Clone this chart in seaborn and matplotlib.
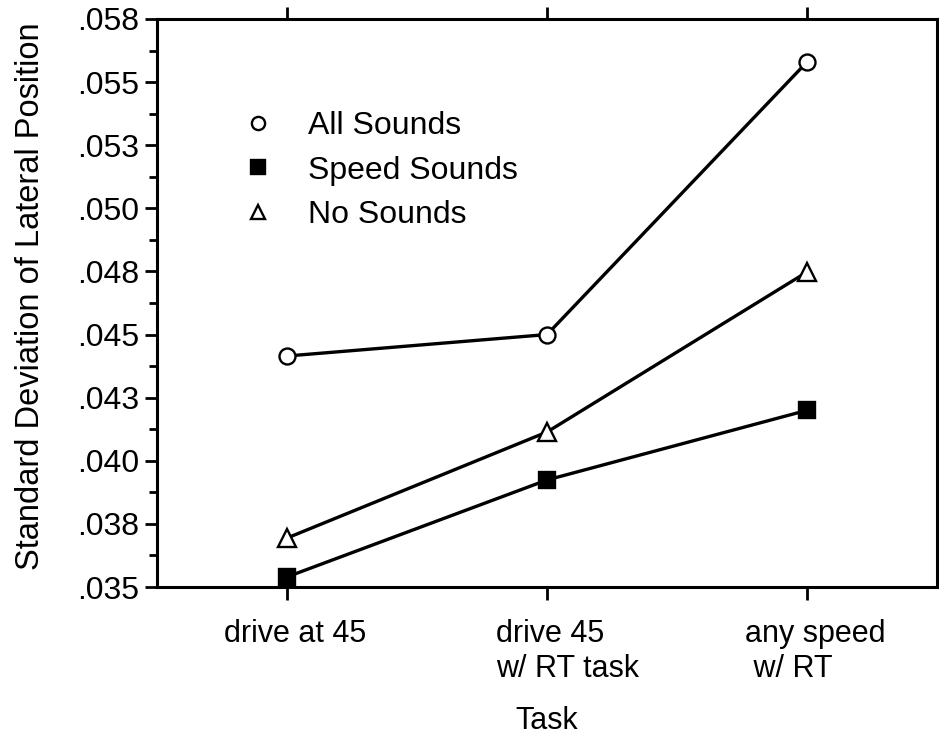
import numpy as np
import pandas as pd
import matplotlib
matplotlib.use("Agg")
import matplotlib.pyplot as plt
import matplotlib.transforms as mtransforms
from matplotlib.lines import Line2D
from matplotlib.ticker import MultipleLocator, FixedLocator
import seaborn as sns

tasks = ["drive at 45", "drive 45\nw/ RT task", "any speed\n w/ RT"]
all_sounds = [0.04415, 0.0450, 0.0558]
speed_sounds = [0.0354, 0.03924, 0.0420]
no_sounds = [0.03694, 0.04114, 0.04748]
series_names = ["All Sounds", "Speed Sounds", "No Sounds"]
ytick_values = [0.035, 0.0375, 0.040, 0.0425, 0.045, 0.0475, 0.050, 0.0525, 0.055, 0.0575]
ytick_labels = [".035", ".038", ".040", ".043", ".045", ".048", ".050", ".053", ".055", ".058"]

sns.set_theme(style="white")
plt.rcParams["font.family"] = ["Liberation Sans", "DejaVu Sans"]
for k in ["text.color", "axes.labelcolor", "xtick.color", "ytick.color", "axes.edgecolor"]:
    plt.rcParams[k] = "black"

pos = np.arange(len(tasks))
df = pd.DataFrame({
    "pos": np.tile(pos, 3),
    "value": all_sounds + speed_sounds + no_sounds,
    "series": np.repeat(series_names, len(tasks)),
})

fig = plt.figure(figsize=(9.39, 7.38), dpi=100)
ax = fig.add_axes([0.1672, 0.2046, 0.8308, 0.7697])

markers = {"All Sounds": "o", "Speed Sounds": "s", "No Sounds": "^"}
faces = {"All Sounds": "white", "Speed Sounds": "black", "No Sounds": "white"}
sizes = {"All Sounds": 11.5, "Speed Sounds": 12, "No Sounds": 12.5}
for name in series_names:
    sub = df[df["series"] == name]
    sns.lineplot(data=sub, x="pos", y="value", ax=ax, color="black", lw=2.4,
                 marker=markers[name], markersize=sizes[name],
                 markerfacecolor=faces[name], markeredgecolor="black",
                 markeredgewidth=1.7, legend=False, zorder=3)

ax.set_xlim(-0.5, 2.5)
ax.set_ylim(0.035, 0.0575)
ax.xaxis.set_major_locator(FixedLocator(pos))
ax.yaxis.set_major_locator(FixedLocator(ytick_values))
ax.yaxis.set_minor_locator(MultipleLocator(0.00125))

ax.tick_params(axis="x", which="major", direction="out", length=9, width=2,
               top=True, bottom=True, labeltop=False, pad=14, colors="black")
ax.tick_params(axis="y", which="major", direction="out", length=9, width=2,
               left=True, right=False, pad=4, colors="black")
ax.tick_params(axis="y", which="minor", direction="out", length=6, width=2,
               left=True, right=False)
for sp in ax.spines.values():
    sp.set_linewidth(2.2)
    sp.set_color("black")

ax.set_xticklabels(tasks, fontsize=22, ha="center", multialignment="left",
                   linespacing=1.2)
ax.set_yticklabels(ytick_labels, fontsize=23)
for lbl, dx in zip(ax.get_xticklabels(), [6, 15, 6]):
    lbl.set_transform(lbl.get_transform() +
                      mtransforms.ScaledTranslation(dx / 72, 0, fig.dpi_scale_trans))

ax.set_xlabel("Task", fontsize=22, labelpad=16)
ax.set_ylabel("Standard Deviation of Lateral Position", fontsize=23.5)
ax.yaxis.set_label_coords(-0.142, 0.512)

handles = [Line2D([], [], ls="none", marker=markers[n],
                  markersize=10.5 if n == "Speed Sounds" else 9.5,
                  markerfacecolor=faces[n], markeredgecolor="black",
                  markeredgewidth=1.7) for n in series_names]
ax.legend(handles, series_names, loc="upper left", bbox_to_anchor=(0.092, 0.86),
          frameon=False, fontsize=23, handlelength=1.0, handletextpad=1.07,
          labelspacing=0.45, borderaxespad=0)

fig.savefig("out.png", dpi=100, facecolor="white")
